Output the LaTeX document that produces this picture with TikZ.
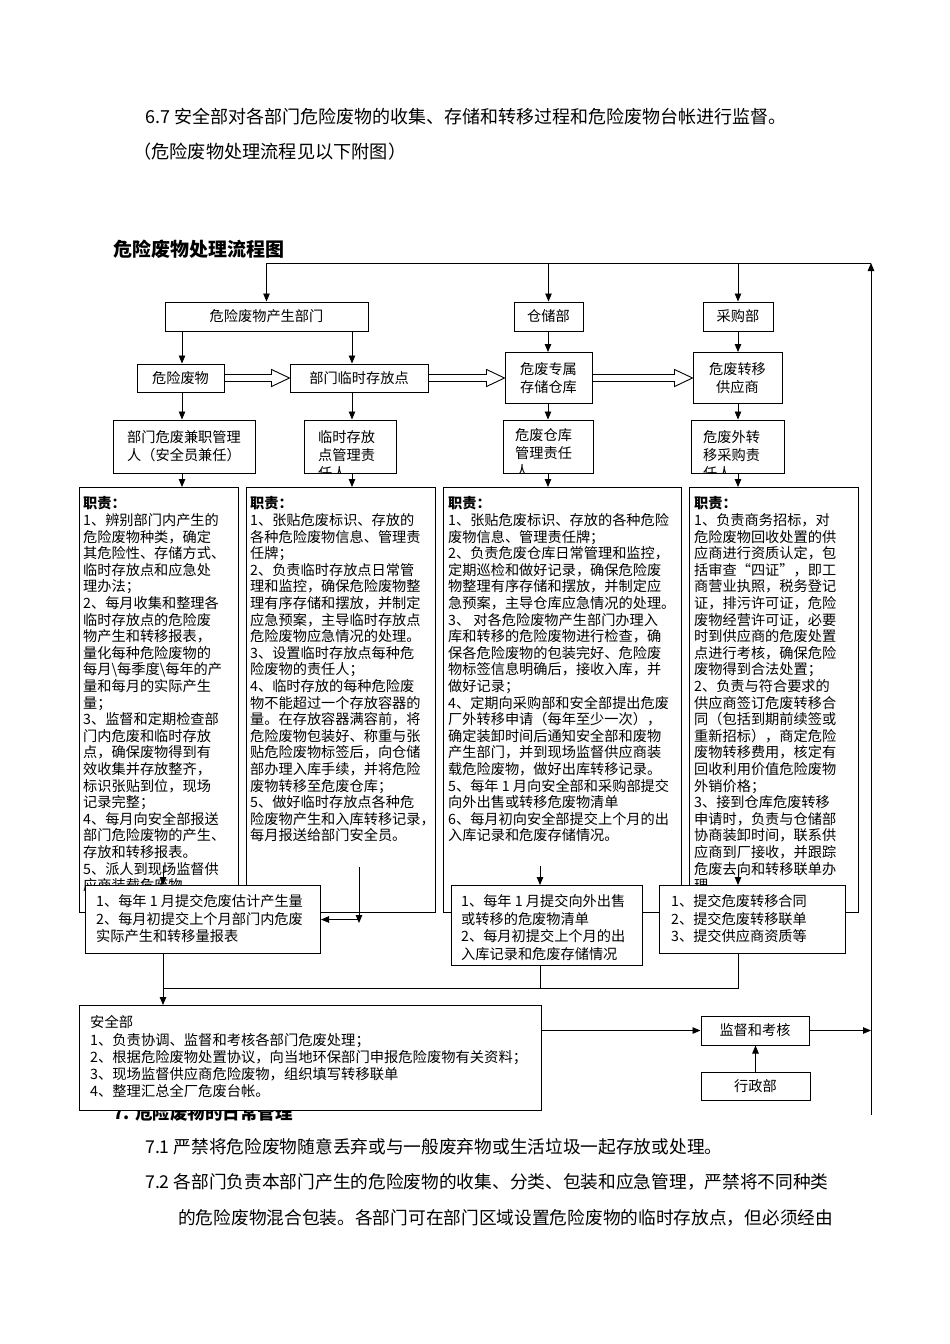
\documentclass[tikz,border=0pt]{standalone}
\usepackage{fontspec}
\setmainfont{Noto Sans CJK SC}
\usetikzlibrary{arrows.meta,calc}
\newcommand\hollowarrow[2]{%
  \draw[line width=0.9pt] ($(#1.east)+(0,-3.5)$) -- ($(#2.west)+(-18,-3.5)$) -- ($(#2.west)+(-18,-8.5)$) -- (#2.west) -- ($(#2.west)+(-18,8.5)$) -- ($(#2.west)+(-18,3.5)$) -- ($(#1.east)+(0,3.5)$);}
\begin{document}
\begin{tikzpicture}[x=1pt,y=-1pt,
  every node/.style={inner sep=0pt},
  box/.style={draw, line width=1pt, fill=white},
  lbl/.style={font=\fontsize{14.2}{18}\selectfont, align=left},
  rt/.style={font=\fontsize{14.2}{16.6}\selectfont, align=left, anchor=north west},
  st/.style={font=\fontsize{14.2}{17.5}\selectfont, align=left, anchor=north west},
  body/.style={font=\fontsize{17.7}{20}\selectfont, anchor=base west},
  ln/.style={line width=0.9pt},
  arr/.style={-{Triangle[length=8pt,width=6.5pt]}, line width=0.9pt}]
\useasboundingbox[fill=white] (0,0) rectangle (950,1344);

% header text
\node[body, font=\fontsize{18}{20}\selectfont] (h1) at (145,123.6) {6.7 安全部对各部门危险废物的收集、存储和转移过程和危险废物台帐进行监督。};
\node[body, font=\fontsize{18.2}{20}\selectfont] (h2) at (133,158.6) {（危险废物处理流程见以下附图）};
\node[font=\fontsize{19}{22}\selectfont\bfseries, anchor=base west] (title) at (113,256) {危险废物处理流程图};

% column coordinates
\coordinate (c1) at (182,0);
\coordinate (c2) at (352,0);
\coordinate (c3) at (548,0);
\coordinate (c4) at (738,0);
\coordinate (TR) at (871,263);
\coordinate (BR) at (871,1115);

% row 1
\node[box, lbl, minimum width=203, minimum height=29] (P) at (266.5,316.5) {危险废物产生部门};
\node[box, lbl, minimum width=69, minimum height=29] (CC) at (548.5,316.5) {仓储部};
\node[box, lbl, minimum width=70, minimum height=29] (CG) at (738,316.5) {采购部};

% row 2
\node[box, lbl, minimum width=87, minimum height=28] (W) at (180.5,378) {危险废物};
\node[box, lbl, minimum width=138, minimum height=28] (T) at (359,378) {部门临时存放点};
\node[box, lbl, align=center, minimum width=87, minimum height=51] (H) at (548.5,378) {危废专属\\存储仓库};
\node[box, lbl, align=center, minimum width=89, minimum height=51] (G) at (737.5,378) {危废转移\\供应商};

% row 3 (responsible persons)
\node[box, lbl, minimum width=142, minimum height=53] (M1) at (184,446.5) {部门危废兼职管理\\人（安全员兼任）};
\node[box, minimum width=92, minimum height=53] (M2) at (350,446.5) {};
\node[box, minimum width=90, minimum height=53] (M3) at (548,446.5) {};
\node[box, minimum width=93, minimum height=53] (M4) at (737.5,446.5) {};
\begin{scope}
\clip (M2.south west) rectangle (M2.north east);
\node[lbl, anchor=north west] (M2t) at (318,430) {临时存放\\点管理责\\任人};
\end{scope}
\begin{scope}
\clip (M3.south west) rectangle (M3.north east);
\node[lbl, anchor=north west] (M3t) at (515,428.5) {危废仓库\\管理责任\\人};
\end{scope}
\begin{scope}
\clip (M4.south west) rectangle (M4.north east);
\node[lbl, anchor=north west] (M4t) at (703,430) {危废外转\\移采购责\\任人};
\end{scope}

% responsibility boxes
\node[box, anchor=north west, minimum width=159, minimum height=425] (R1) at (79,487) {};
\node[box, anchor=north west, minimum width=189, minimum height=425] (R2) at (246,487) {};
\node[box, anchor=north west, minimum width=238, minimum height=425] (R3) at (443,487) {};
\node[box, anchor=north west, minimum width=169, minimum height=425] (R4) at (689,487) {};

\node[rt] (R1t) at (83,496.6) {\textbf{职责：}\\
1、辨别部门内产生的\\
危险废物种类，确定\\
其危险性、存储方式、\\
临时存放点和应急处\\
理办法；\\
2、每月收集和整理各\\
临时存放点的危险废\\
物产生和转移报表，\\
量化每种危险废物的\\
每月\textbackslash 每季度\textbackslash 每年的产\\
量和每月的实际产生\\
量；\\
3、监督和定期检查部\\
门内危废和临时存放\\
点，确保废物得到有\\
效收集并存放整齐，\\
标识张贴到位，现场\\
记录完整；\\
4、每月向安全部报送\\
部门危险废物的产生、\\
存放和转移报表。\\
5、派人到现场监督供\\
应商装载危废物。};

\node[rt] (R2t) at (250,496.6) {\textbf{职责：}\\
1、张贴危废标识、存放的\\
各种危险废物信息、管理责\\
任牌；\\
2、负责临时存放点日常管\\
理和监控，确保危险废物整\\
理有序存储和摆放，并制定\\
应急预案，主导临时存放点\\
危险废物应急情况的处理。\\
3、设置临时存放点每种危\\
险废物的责任人；\\
4、临时存放的每种危险废\\
物不能超过一个存放容器的\\
量。在存放容器满容前，将\\
危险废物包装好、称重与张\\
贴危险废物标签后，向仓储\\
部办理入库手续，并将危险\\
废物转移至危废仓库；\\
5、做好临时存放点各种危\\
险废物产生和入库转移记录，\\
每月报送给部门安全员。};

\node[rt] (R3t) at (448,496.6) {\textbf{职责：}\\
1、张贴危废标识、存放的各种危险\\
废物信息、管理责任牌；\\
2、负责危废仓库日常管理和监控，\\
定期巡检和做好记录，确保危险废\\
物整理有序存储和摆放，并制定应\\
急预案，主导仓库应急情况的处理。\\
3、 对各危险废物产生部门办理入\\
库和转移的危险废物进行检查，确\\
保各危险废物的包装完好、危险废\\
物标签信息明确后，接收入库，并\\
做好记录；\\
4、定期向采购部和安全部提出危废\\
厂外转移申请（每年至少一次），\\
确定装卸时间后通知安全部和废物\\
产生部门，并到现场监督供应商装\\
载危险废物，做好出库转移记录。\\
5、每年 1 月向安全部和采购部提交\\
向外出售或转移危废物清单\\
6、每月初向安全部提交上个月的出\\
入库记录和危废存储情况。};

\node[rt] (R4t) at (694,496.6) {\textbf{职责：}\\
1、负责商务招标，对\\
危险废物回收处置的供\\
应商进行资质认定，包\\
括审查“四证”，即工\\
商营业执照，税务登记\\
证，排污许可证，危险\\
废物经营许可证，必要\\
时到供应商的危废处置\\
点进行考核，确保危险\\
废物得到合法处置；\\
2、负责与符合要求的\\
供应商签订危废转移合\\
同（包括到期前续签或\\
重新招标），商定危险\\
废物转移费用，核定有\\
回收利用价值危险废物\\
外销价格；\\
3、接到仓库危废转移\\
申请时，负责与仓储部\\
协商装卸时间，联系供\\
应商到厂接收，并跟踪\\
危废去向和转移联单办\\
理。};

% summary boxes
\node[box, anchor=north west, minimum width=235, minimum height=68] (S1) at (85,885) {};
\node[box, anchor=north west, minimum width=191, minimum height=80] (S3) at (451,885) {};
\node[box, anchor=north west, minimum width=186, minimum height=68] (S4) at (659,885) {};
\node[st] (S1t) at (96,894.6) {1、每年 1 月提交危废估计产生量\\2、每月初提交上个月部门内危废\\实际产生和转移量报表};
\node[st] (S3t) at (461,894.6) {1、每年 1 月提交向外出售\\或转移的危废物清单\\2、每月初提交上个月的出\\入库记录和危废存储情况};
\node[st] (S4t) at (671,894.6) {1、提交危废转移合同\\2、提交危废转移联单\\3、提交供应商资质等};

% heading partly hidden under safety box
\node[font=\fontsize{17.5}{20}\selectfont\bfseries, anchor=base west] (h7) at (113,1119) {7. 危险废物的日常管理};

% safety box and right side
\node[box, anchor=north west, minimum width=462, minimum height=105] (SB) at (79,1005) {};
\node[font=\fontsize{14.3}{17.25}\selectfont, align=left, anchor=north west] (SBt) at (90,1015.6) {安全部\\
1、负责协调、监督和考核各部门危废处理；\\
2、根据危险废物处置协议，向当地环保部门申报危险废物有关资料；\\
3、现场监督供应商危险废物，组织填写转移联单\\
4、整理汇总全厂危废台帐。};
\node[box, lbl, minimum width=108, minimum height=29] (JK) at (755,1030.5) {监督和考核};
\node[box, lbl, minimum width=109, minimum height=28] (XZ) at (755.5,1086) {行政部};

% bottom text
\node[body] (b1) at (145,1153.6) {7.1 严禁将危险废物随意丢弃或与一般废弃物或生活垃圾一起存放或处理。};
\node[body] (b2) at (145,1188.6) {7.2 各部门负责本部门产生的危险废物的收集、分类、包装和应急管理，严禁将不同种类};
\node[body] (b3) at (178,1224.6) {的危险废物混合包装。各部门可在部门区域设置危险废物的临时存放点，但必须经由};

% ---- connectors ----
\draw[arr] (BR) -- (TR);
\draw[ln] (TR) -- (TR -| P.north);
\draw[arr] (TR -| P.north) -- (P.north);
\draw[arr] (TR -| CC.north) -- (CC.north);
\draw[arr] (TR -| CG.north) -- (CG.north);

\draw[arr] (P.south -| c1) -- (W.north -| c1);
\draw[arr] (P.south -| c2) -- (T.north -| c2);
\draw[arr] (CC.south -| c3) -- (H.north -| c3);
\draw[arr] (CG.south -| c4) -- (G.north -| c4);

\hollowarrow{W}{T}
\hollowarrow{T}{H}
\hollowarrow{H}{G}

\draw[arr] (W.south -| c1) -- (M1.north -| c1);
\draw[arr] (T.south -| c2) -- (M2.north -| c2);
\draw[arr] (H.south -| c3) -- (M3.north -| c3);
\draw[arr] (G.south -| c4) -- (M4.north -| c4);

\draw[arr] (M1.south -| c1) -- (R1.north -| c1);
\draw[arr] (M2.south -| c2) -- (R2.north -| c2);
\draw[arr] (M3.south -| c3) -- (R3.north -| c3);
\draw[arr] (M4.south -| c4) -- (R4.north -| c4);

\coordinate (a1) at (163,866);
\coordinate (a2) at (359,867);
\coordinate (a2b) at (359,923);
\coordinate (a3) at (540,866);
\coordinate (a4) at (738,868);
\coordinate (j) at (0,988);
\draw[arr] (a1) -- (a1 |- S1.north);
\draw[arr] (a2) -- (a2b);
\draw[arr] (a2 |- S1.east) -- (S1.east);
\draw[arr] (a3) -- (a3 |- S3.north);
\draw[arr] (a4) -- (a4 |- S4.north);

\draw[ln] (S1.south -| a1) -- (j -| a1) -- (j -| a4) -- (S4.south -| a4);
\draw[ln] (S3.south -| a3) -- (j -| a3);
\draw[arr] (j -| a1) -- (SB.north -| a1);

\draw[arr] (SB.east |- JK.west) -- (JK.west);
\draw[arr] (XZ.north) -- (XZ.north |- JK.south);
\draw[arr] (JK.east) -- (JK.east -| BR);
\end{tikzpicture}
\end{document}
